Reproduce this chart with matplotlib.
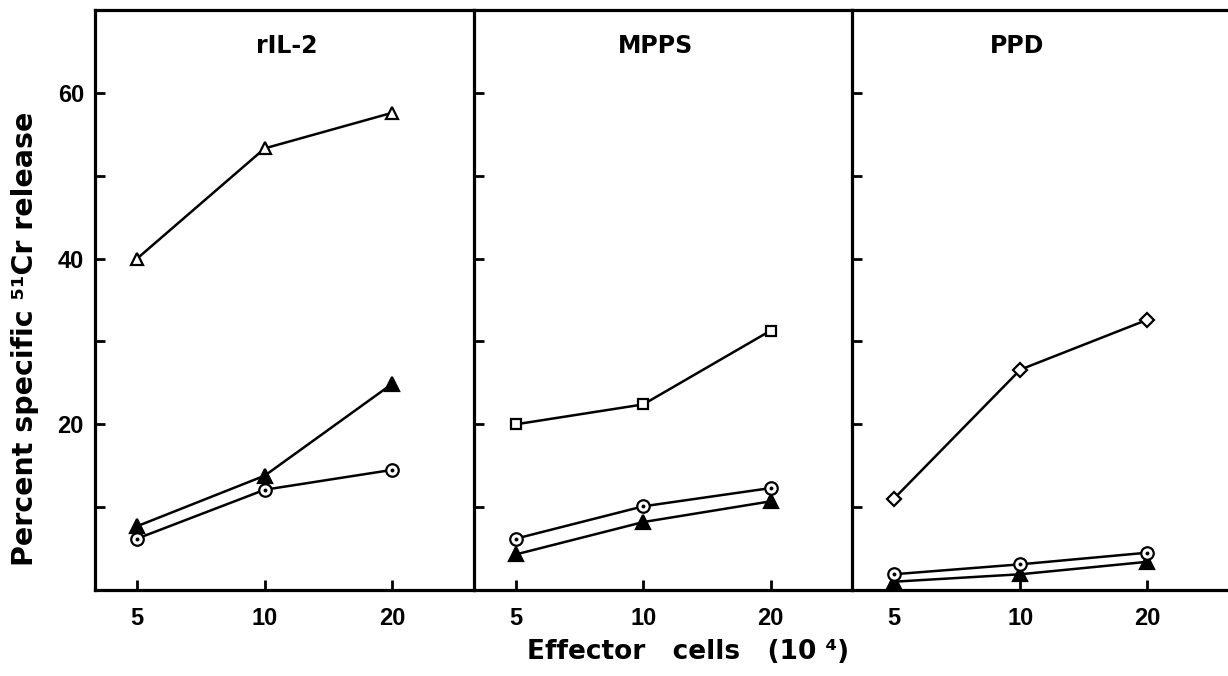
import matplotlib
matplotlib.use("Agg")
import matplotlib.pyplot as plt

# effector cell numbers (x 10^4), drawn as equally spaced categories
DOSES = ["5", "10", "20"]
PANEL_TITLES = ["rIL-2", "MPPS", "PPD"]

# percent specific 51Cr release
RIL2_OPEN_TRIANGLE = [40.0, 53.3, 57.6]
RIL2_FILLED_TRIANGLE = [7.7, 13.8, 24.9]
RIL2_CIRCLE = [6.2, 12.1, 14.5]

MPPS_SQUARE = [20.0, 22.4, 31.3]
MPPS_FILLED_TRIANGLE = [4.3, 8.2, 10.7]
MPPS_CIRCLE = [6.2, 10.1, 12.3]

PPD_DIAMOND = [11.0, 26.6, 32.6]
PPD_FILLED_TRIANGLE = [1.0, 1.9, 3.4]
PPD_CIRCLE = [1.9, 3.1, 4.5]

Y_TICKS = [10, 20, 30, 40, 50, 60]
Y_TICK_LABELS = ["", "20", "", "40", "", "60"]

FIG_W, FIG_H = 1228, 676
TICK_FONT = "Liberation Sans"
LABEL_FONT = "DejaVu Sans"


def px_box(x0, x1, y_top, y_bottom):
    """Axes rectangle in figure fractions from pixel edges."""
    return [x0 / FIG_W, 1 - y_bottom / FIG_H, (x1 - x0) / FIG_W, (y_bottom - y_top) / FIG_H]


def plot_series(ax, values, kind):
    x = range(len(values))
    line = dict(color="black", lw=1.8, mew=1.6, mec="black")
    if kind == "open_triangle":
        ax.plot(x, values, marker="^", ms=9, mfc="white", **line)
    elif kind == "filled_triangle":
        ax.plot(x, values, marker="^", ms=10, mfc="black", **line)
    elif kind == "square":
        ax.plot(x, values, marker="s", ms=7.5, mfc="white", **line)
    elif kind == "diamond":
        ax.plot(x, values, marker="D", ms=7.5, mfc="white", **line)
    elif kind == "circle":
        ax.plot(x, values, marker="o", ms=9, mfc="white", **line)
        ax.plot(x, values, ls="none", marker="o", ms=1.8, color="black")


def style_panel(ax, title, title_x, first):
    ax.set_xlim(-0.33, 2.64)
    ax.set_ylim(0, 70)
    ax.set_xticks(range(len(DOSES)))
    ax.set_xticklabels(DOSES, fontfamily=TICK_FONT, fontweight="bold", fontsize=17)
    ax.set_yticks(Y_TICKS)
    if first:
        ax.set_yticklabels(Y_TICK_LABELS, fontfamily=TICK_FONT, fontweight="bold", fontsize=17)
    else:
        ax.set_yticklabels([])
    ax.tick_params(axis="both", direction="in", length=7, width=2)
    ax.tick_params(axis="x", pad=12)
    ax.tick_params(axis="y", pad=8)
    for side in ["left", "top", "bottom"]:
        ax.spines[side].set_linewidth(2.3)
    ax.spines["right"].set_visible(False)
    ax.text(title_x, 0.938, title, transform=ax.transAxes, ha="center", va="center",
            fontfamily=LABEL_FONT, fontweight="bold", fontsize=17)


def main():
    fig = plt.figure(figsize=(FIG_W / 100, FIG_H / 100), dpi=100)

    edges = [(95, 474), (474, 852), (852, 1228)]
    title_xs = [0.507, 0.479, 0.439]
    panels = [
        [(RIL2_CIRCLE, "circle"), (RIL2_FILLED_TRIANGLE, "filled_triangle"),
         (RIL2_OPEN_TRIANGLE, "open_triangle")],
        [(MPPS_FILLED_TRIANGLE, "filled_triangle"), (MPPS_CIRCLE, "circle"),
         (MPPS_SQUARE, "square")],
        [(PPD_FILLED_TRIANGLE, "filled_triangle"), (PPD_CIRCLE, "circle"),
         (PPD_DIAMOND, "diamond")],
    ]

    for i, ((x0, x1), series) in enumerate(zip(edges, panels)):
        ax = fig.add_axes(px_box(x0, x1, 10, 590))
        for values, kind in series:
            plot_series(ax, values, kind)
        style_panel(ax, PANEL_TITLES[i], title_xs[i], first=(i == 0))

    fig.text(25 / FIG_W, 1 - 339 / FIG_H, "Percent specific \u2075\u00b9Cr release",
             rotation=90, ha="center", va="center",
             fontfamily=LABEL_FONT, fontweight="bold", fontsize=20.5)
    fig.text(688 / FIG_W, 1 - 652 / FIG_H, "Effector   cells   (10 \u2074)",
             ha="center", va="center",
             fontfamily=LABEL_FONT, fontweight="bold", fontsize=19)

    fig.savefig("out.png", dpi=100)
    plt.close(fig)


if __name__ == "__main__":
    main()
